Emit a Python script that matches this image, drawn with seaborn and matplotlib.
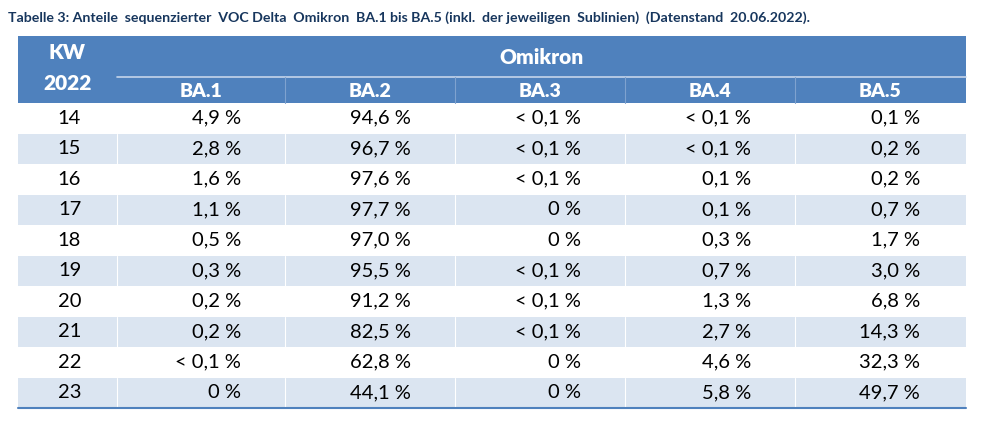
import matplotlib
matplotlib.use('Agg')
import matplotlib.pyplot as plt
import seaborn as sns
from matplotlib.patches import Rectangle

sns.set_theme(style='white')
plt.rcParams['font.family'] = ['Lato', 'DejaVu Sans']

title = 'Tabelle 3: Anteile  sequenzierter  VOC Delta  Omikron  BA.1 bis BA.5 (inkl.  der jeweiligen  Sublinien)  (Datenstand  20.06.2022).'
kw = ['14', '15', '16', '17', '18', '19', '20', '21', '22', '23']
lineages = ['BA.1', 'BA.2', 'BA.3', 'BA.4', 'BA.5']
ba1 = ['4,9 %', '2,8 %', '1,6 %', '1,1 %', '0,5 %', '0,3 %', '0,2 %', '0,2 %', '< 0,1 %', '0 %']
ba2 = ['94,6 %', '96,7 %', '97,6 %', '97,7 %', '97,0 %', '95,5 %', '91,2 %', '82,5 %', '62,8 %', '44,1 %']
ba3 = ['< 0,1 %', '< 0,1 %', '< 0,1 %', '0 %', '0 %', '< 0,1 %', '< 0,1 %', '< 0,1 %', '0 %', '0 %']
ba4 = ['< 0,1 %', '< 0,1 %', '0,1 %', '0,1 %', '0,3 %', '0,7 %', '1,3 %', '2,7 %', '4,6 %', '5,8 %']
ba5 = ['0,1 %', '0,2 %', '0,2 %', '0,7 %', '1,7 %', '3,0 %', '6,8 %', '14,3 %', '32,3 %', '49,7 %']
columns = [ba1, ba2, ba3, ba4, ba5]

# layout (pixel coordinates)
left, right = 18, 966
col_edges = [18, 117, 285, 455, 625, 795, 966]
text_right = [241, 411, 581, 751, 920]
head_top, head_mid, head_bot = 36, 77, 103
row_h = 30.5
blue = '#4F81BD'
light = '#DBE5F1'

fig = plt.figure(figsize=(9.96, 4.25), dpi=100)
ax = fig.add_axes([0, 0, 1, 1])
ax.set_xlim(0, 996)
ax.set_ylim(425, 0)
ax.axis('off')

ax.text(8, 18, title, color='#17365D', fontsize=10.2, fontweight='bold', va='center', ha='left')

# header
ax.add_patch(Rectangle((left, head_top), right - left, head_bot - head_top, color=blue, lw=0))
ax.plot([col_edges[1], right], [head_mid, head_mid], color='#C5D5EA', lw=1.2)
for x in col_edges[2:-1]:
    ax.plot([x, x], [head_mid, head_bot], color='#7FA2CF', lw=0.8)
ax.text((col_edges[0] + col_edges[1]) / 2, 52, 'KW', color='white', fontsize=15, fontweight='heavy', ha='center', va='center')
ax.text((col_edges[0] + col_edges[1]) / 2, 83, '2022', color='white', fontsize=15, fontweight='heavy', ha='center', va='center')
ax.text((col_edges[1] + right) / 2, 57, 'Omikron', color='white', fontsize=15, fontweight='heavy', ha='center', va='center')
for j, name in enumerate(lineages):
    ax.text((col_edges[j + 1] + col_edges[j + 2]) / 2, 91, name, color='white', fontsize=14,
            fontweight='heavy', ha='center', va='center')

# body
for i, k in enumerate(kw):
    y0 = head_bot + i * row_h
    if i % 2 == 1:
        ax.add_patch(Rectangle((left, y0), right - left, row_h, color=light, lw=0))
        for x in col_edges[1:-1]:
            ax.plot([x, x], [y0, y0 + row_h], color='white', lw=0.8)
    yc = y0 + row_h / 2
    ax.text((col_edges[0] + col_edges[1]) / 2 + 2, yc, k, fontsize=14.5, ha='center', va='center', color='black')
    for j, col in enumerate(columns):
        ax.text(text_right[j], yc, col[i], fontsize=14.5, ha='right', va='center', color='black')

bottom = head_bot + len(kw) * row_h
ax.plot([left, right], [bottom, bottom], color=blue, lw=1.5)

fig.savefig('out.png', dpi=100, facecolor='white')
